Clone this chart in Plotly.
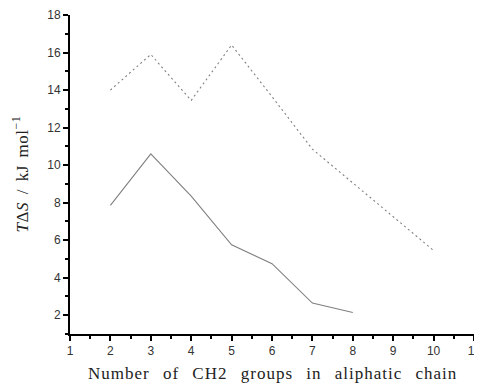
import plotly.graph_objects as go

x_solid = [2, 3, 4, 5, 6, 7, 8]
y_solid = [7.85, 10.6, 8.35, 5.75, 4.75, 2.65, 2.15]
x_dot = [2, 3, 4, 5, 6, 7, 8, 9, 10]
y_dot = [14.0, 15.9, 13.45, 16.4, 13.65, 10.85, 9.05, 7.25, 5.45]

x_title = 'Number of CH2 groups in aliphatic chain'
y_title = '<i>T</i>Δ<i>S</i> / kJ mol<sup>−1</sup>'

fig = go.Figure()
fig.add_trace(go.Scatter(x=x_solid, y=y_solid, mode='lines',
                         line=dict(color='#808080', width=1.1)))
fig.add_trace(go.Scatter(x=x_dot, y=y_dot, mode='lines',
                         line=dict(color='#808080', width=1.1, dash='2px,3px')))

tickfont = dict(family='Liberation Sans, Arial', size=12, color='#333')
titlefont = dict(family='Liberation Serif, Times New Roman', size=17, color='#222')

common = dict(showgrid=False, zeroline=False, automargin=False,
              showline=True, linecolor='black', linewidth=1.8,
              ticks='outside', ticklen=5, tickwidth=1.8, tickcolor='black',
              tickfont=tickfont, ticklabeloverflow='allow')

fig.update_layout(
    width=482, height=384,
    margin=dict(l=62, r=16, t=7, b=58),
    paper_bgcolor='white', plot_bgcolor='white',
    showlegend=False,
    xaxis=dict(range=[1, 11], dtick=1, tick0=1,
               minor=dict(ticks='outside', ticklen=3, dtick=0.5, tickwidth=1.5, tickcolor='black'),
               **common),
    yaxis=dict(range=[1, 18], dtick=2, tick0=0,
               minor=dict(ticks='outside', ticklen=3, dtick=1, tickwidth=1.5, tickcolor='black'),
               **common),
    annotations=[
        dict(text='<span style="letter-spacing:1px;word-spacing:8px">' + x_title + '</span>',
             xref='paper', yref='paper', x=0.5, y=0, xanchor='center', yanchor='middle',
             yshift=-39.5, showarrow=False, font=titlefont),
        dict(text='<span style="letter-spacing:0.5px;word-spacing:3px">' + y_title + '</span>',
             xref='paper', yref='paper', x=0, y=0.5, xanchor='center', yanchor='middle',
             xshift=-50, textangle=-90, showarrow=False, font=titlefont),
    ],
)

fig.write_html('out.html')
